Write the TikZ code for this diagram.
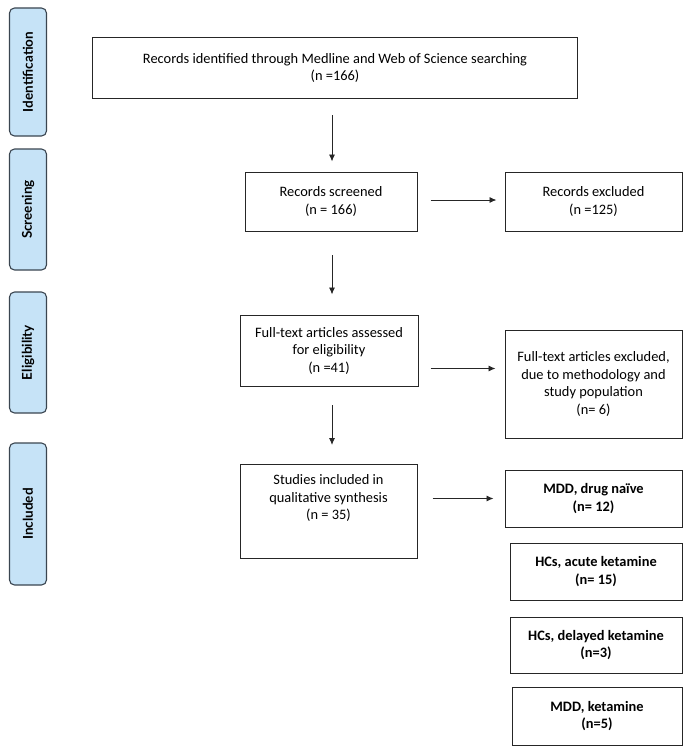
\documentclass[tikz,border=0pt]{standalone}
\usepackage{fontspec}
\setmainfont{Carlito}
\newfontfamily\sidefont{Lato}
\usetikzlibrary{arrows.meta}
\definecolor{sideblue}{HTML}{C6E3F7}
\definecolor{sideedge}{HTML}{3A4550}
\tikzset{
  box/.style={draw=black!85, line width=1pt, align=center, inner sep=0pt, font=\fontsize{14.4}{17.5}\selectfont},
  boldbox/.style={box, font=\fontsize{14.4}{17.5}\selectfont\bfseries},
  side/.style={draw=sideedge, fill=sideblue, line width=1.1pt, rounded corners=5pt, inner sep=0pt},
  sidetext/.style={rotate=90, font=\sidefont\bfseries\fontsize{13.5}{15}\selectfont},
  arr/.style={-{Latex[length=7pt,width=6pt]}, line width=0.9pt, black!85}
}
\begin{document}
\begin{tikzpicture}
\useasboundingbox (0,0) rectangle (687pt,-752pt);
% side labels
\foreach \nm/\ya/\yb/\txt in {id/8/136/Identification, sc/149/270/Screening, el/292/413/Eligibility, in/443/585/Included}{
  \node[side, minimum width=37pt, minimum height={(\yb-\ya)*1pt}] (\nm) at (28pt,{-(\ya+\yb)/2*1pt}) {};
  \node[sidetext] (\nm t) at (\nm.center) {\txt};
}
% main boxes
\node[box, minimum width=485pt, minimum height=60pt] (top) at (335pt,-68pt) {Records identified through Medline and Web of Science searching\\(n =166)};
\node[box, minimum width=172pt, minimum height=59pt] (scr) at (331pt,-201.5pt) {Records screened\\(n = 166)};
\node[box, minimum width=177pt, minimum height=59pt] (exc) at (593.5pt,-201.5pt) {Records excluded\\(n =125)};
\node[box, minimum width=178pt, minimum height=71pt] (ft) at (329pt,-350.5pt) {Full-text articles assessed\\for eligibility\\(n =41)};
\node[box, minimum width=177pt, minimum height=108pt] (ftx) at (593.5pt,-384pt) {Full-text articles excluded,\\due to methodology and\\study population\\(n= 6)};
\node[box, minimum width=177pt, minimum height=94pt, anchor=north] (st) at (328.5pt,-464pt) {};
\node[box, draw=none, anchor=north] (stt) at (st.north) [yshift=-10pt] {Studies included in\\qualitative synthesis\\(n = 35)};
\node[boldbox, minimum width=177pt, minimum height=57pt] (mdd) at (593.5pt,-498.5pt) {MDD, drug naïve\\(n= 12)};
\node[boldbox, minimum width=172pt, minimum height=57pt] (hca) at (596pt,-571.5pt) {HCs, acute ketamine\\(n= 15)};
\node[boldbox, minimum width=172pt, minimum height=56pt] (hcd) at (596pt,-645pt) {HCs, delayed ketamine\\(n=3)};
\node[boldbox, minimum width=170pt, minimum height=58pt] (mk) at (597pt,-716pt) {MDD, ketamine\\(n=5)};
% arrow anchor points
\coordinate (a1) at (332pt,-115pt);
\coordinate (a2) at (332pt,-255pt);
\coordinate (a3) at (332pt,-405pt);
% arrows
\draw[arr] (a1) -- ([yshift=10pt]a1 |- scr.north);
\draw[arr] (a2) -- ([yshift=20pt]a2 |- ft.north);
\draw[arr] (a3) -- ([yshift=19pt]a3 |- st.north);
\draw[arr] ([xshift=13pt,yshift=1.5pt]scr.east) -- ([xshift=-8pt,yshift=1.5pt]exc.west);
\draw[arr] ([xshift=12pt,yshift=-18pt]ft.east) -- ([xshift=-9pt,yshift=-18pt]ft.east -| ftx.west);
\draw[arr] ([xshift=15pt]st.east |- mdd) -- ([xshift=-11pt]mdd.west);
\end{tikzpicture}
\end{document}
